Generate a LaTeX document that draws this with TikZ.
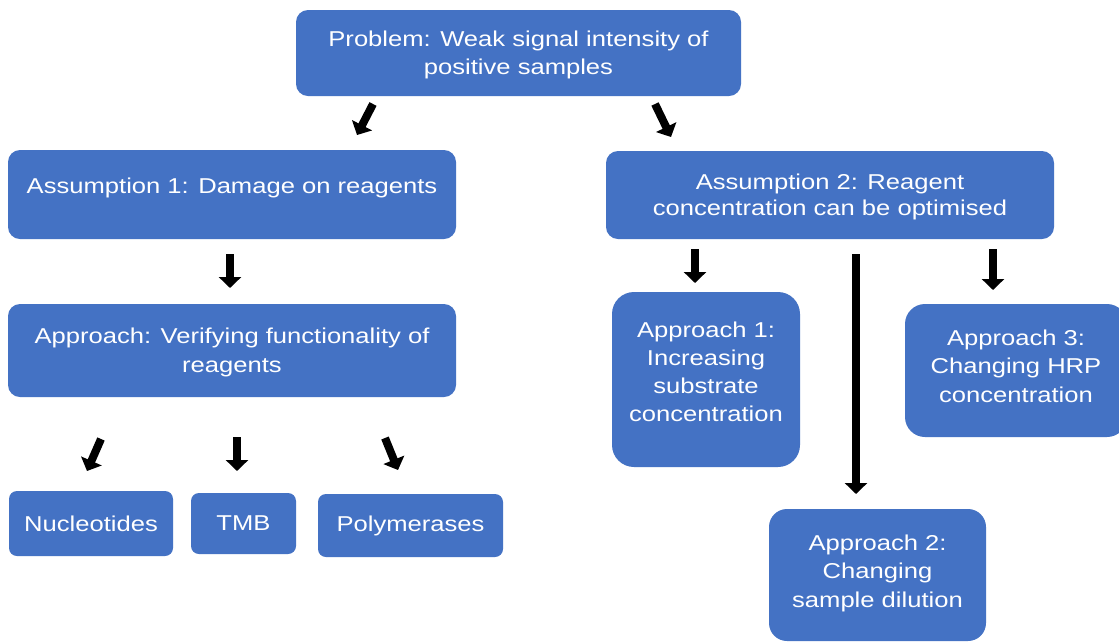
\documentclass[tikz,border=0pt]{standalone}
\usepackage{fontspec}
\setmainfont{Liberation Sans}[FakeStretch=1.19]
\usetikzlibrary{arrows.meta}
\definecolor{boxblue}{HTML}{4472C4}
\begin{document}
\begin{tikzpicture}[x=1pt,y=-1pt,
  box/.style={fill=boxblue, text=white, align=center, inner sep=0pt, rounded corners=#1},
  box/.default=12pt,
  fs/.style={font=\fontsize{21.5}{#1}\selectfont},
  fs/.default=28,
  blockarrow/.style={line width=8pt, draw=black, -{Triangle[length=11pt 0, width=22pt 0]}}]
\useasboundingbox (0,0) rectangle (1119,641);
\clip (0,0) rectangle (1119,641);
\fill[white] (0,0) rectangle (1119,641);

% boxes
\node[box, fs, text depth=0pt, minimum width=445pt, minimum height=86pt] (prob) at (518.5,53)
  {Problem: Weak signal intensity of\\positive samples};
\node[box, fs, text depth=18.5pt, minimum width=448pt, minimum height=89pt] (asm1) at (232,194.5)
  {Assumption 1: Damage on reagents};
\node[box, fs=26, text depth=0pt, minimum width=448pt, minimum height=88pt] (asm2) at (830,195)
  {Assumption 2: Reagent\\concentration can be optimised};
\node[box, fs=29, text depth=1.5pt, minimum width=448pt, minimum height=93pt] (appl) at (232,350.5)
  {Approach: Verifying functionality of\\reagents};
\node[box=8pt, fs, minimum width=164pt, minimum height=65pt] (nuc) at (91,523.5) {Nucleotides};
\node[box=8pt, fs, minimum width=105pt, minimum height=61pt] (tmb) at (243.5,523.5) {TMB};
\node[box=8pt, fs, minimum width=185pt, minimum height=63pt] (poly) at (410.5,525.5) {Polymerases};
\node[box=22pt, fs, text depth=15pt, minimum width=188pt, minimum height=175pt] (ap1) at (706,379.5)
  {Approach 1:\\Increasing\\substrate\\concentration};
\node[box=20pt, fs=28.5, text depth=9.5pt, minimum width=222pt, minimum height=133pt] (ap3) at (1016,370.5)
  {Approach 3:\\Changing HRP\\concentration};
\node[box=18pt, fs=28.5, text depth=8.5pt, minimum width=217pt, minimum height=132pt] (ap2) at (877.5,575)
  {Approach 2:\\Changing\\sample dilution};

% arrow end points
\coordinate (p1s) at (373,104); \coordinate (p1e) at (357,135);
\coordinate (p2s) at (655,104); \coordinate (p2e) at (671,137);
\coordinate (a1s) at (230,254); \coordinate (a1e) at (230,288);
\coordinate (l1s) at (101,439); \coordinate (l1e) at (87,471);
\coordinate (l2s) at (237,437); \coordinate (l2e) at (237,471);
\coordinate (l3s) at (385,438); \coordinate (l3e) at (398,470);
\coordinate (r1s) at (695,249); \coordinate (r1e) at (695,283);
\coordinate (r2s) at (856,254); \coordinate (r2e) at (856,494);
\coordinate (r3s) at (993,249); \coordinate (r3e) at (993,290);

\draw[blockarrow] (p1s) -- (p1e);
\draw[blockarrow] (p2s) -- (p2e);
\draw[blockarrow] (a1s) -- (a1e);
\draw[blockarrow] (l1s) -- (l1e);
\draw[blockarrow] (l2s) -- (l2e);
\draw[blockarrow] (l3s) -- (l3e);
\draw[blockarrow] (r1s) -- (r1e);
\draw[blockarrow] (r2s) -- (r2e);
\draw[blockarrow] (r3s) -- (r3e);
\end{tikzpicture}
\end{document}
